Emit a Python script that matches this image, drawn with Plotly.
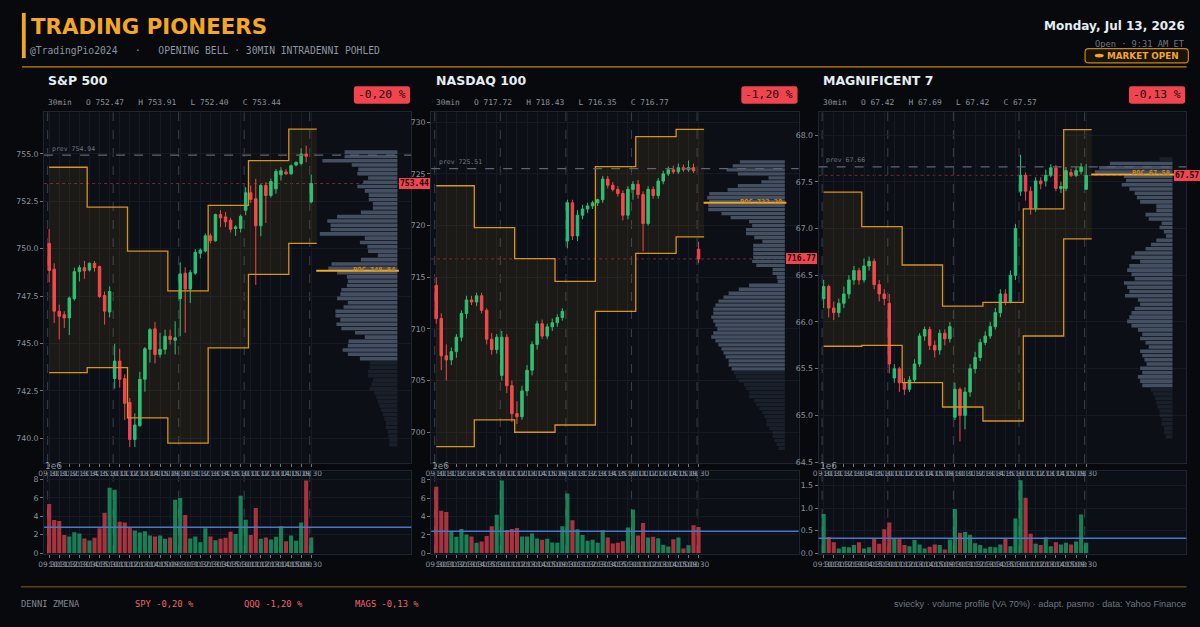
import plotly.graph_objects as go

W, H = 1200, 627
PAGE_BG = "#07090d"
PLOT_BG = "#0c1016"
GRID = "#151b24"
FRAME = "#1f2631"
TXT = "#e6edf3"
MUTED = "#8b949e"
DIM = "#6e7681"
ORANGE = "#f5a623"
GREEN = "#22c27a"
RED = "#f0444f"
MONO = "DejaVu Sans Mono"
SANS = "DejaVu Sans"

# ---------------- data ----------------
session_times = ["09:30", "10:00", "10:30", "11:00", "11:30", "12:00", "12:30",
                 "13:00", "13:30", "14:00", "14:30", "15:00", "15:30"]
time_labels = session_times * 4 + ["09:30"]
day_starts = [0, 13, 26, 39, 52]
band_edges = [0, 7.55, 15.55, 23.55, 31.55, 39.55, 47.55, 53.1]

# S&P 500
spx_open = [750.28, 748.92, 746.70, 746.52, 746.35, 747.36, 748.79, 749.00, 748.88, 749.23, 749.06, 747.53, 746.66,
            743.15, 744.07, 743.15, 741.89, 739.93, 740.66, 743.11, 744.69, 745.77, 744.42, 744.69, 745.38, 745.17,
            747.36, 748.71, 747.87, 748.71, 749.76, 749.88, 750.68, 750.42, 751.80, 751.68, 751.50, 751.07, 751.07,
            752.03, 752.95, 752.64, 751.21, 753.34, 752.81, 753.16, 753.90, 754.05, 753.95, 754.42, 754.50, 755.00,
            752.47]
spx_high = [751.03, 749.23, 747.05, 746.70, 747.48, 749.00, 749.14, 749.35, 749.28, 749.35, 749.11, 747.74, 748.01,
            744.98, 744.72, 743.37, 742.12, 741.31, 743.50, 744.81, 745.82, 746.14, 745.56, 745.73, 745.73, 746.17,
            749.28, 749.02, 748.88, 749.97, 750.02, 750.80, 750.80, 751.85, 752.03, 751.94, 751.63, 751.24, 751.80,
            753.25, 753.34, 753.69, 753.43, 753.51, 753.70, 754.20, 754.30, 754.20, 754.45, 754.60, 755.30, 755.44,
            753.91]
spx_low = [748.23, 746.08, 745.21, 745.82, 745.44, 747.26, 748.27, 748.41, 748.79, 748.79, 747.40, 746.00, 746.38,
           742.62, 742.67, 740.96, 739.53, 739.53, 740.61, 742.45, 743.99, 743.95, 744.25, 744.42, 744.95, 744.42,
           745.38, 745.56, 747.13, 748.62, 749.49, 749.81, 750.28, 750.37, 751.15, 751.15, 750.86, 750.68, 750.86,
           751.77, 752.43, 748.09, 750.66, 751.36, 752.70, 752.90, 753.60, 753.90, 753.90, 754.35, 754.40, 754.56,
           752.40]
spx_close = [748.85, 746.70, 746.43, 746.35, 747.40, 748.79, 749.00, 748.83, 749.23, 749.00, 747.48, 746.70, 747.74,
             744.07, 743.11, 741.84, 739.93, 740.70, 743.11, 744.72, 745.73, 744.42, 744.69, 745.38, 745.21, 745.30,
             748.67, 747.87, 748.74, 749.81, 749.93, 750.68, 750.42, 751.80, 751.63, 751.42, 751.03, 751.15, 751.71,
             752.95, 752.60, 751.21, 753.34, 752.81, 753.55, 754.07, 754.12, 753.95, 754.38, 754.56, 755.00, 754.88,
             753.44]
spx_vol = [5.33, 3.60, 3.50, 1.98, 1.80, 2.27, 2.13, 1.59, 1.37, 1.66, 2.70, 4.40, 7.10,
           6.88, 3.42, 3.32, 2.74, 2.45, 2.23, 2.38, 1.91, 1.80, 1.91, 1.55, 1.69, 5.80,
           5.98, 4.14, 1.59, 1.80, 1.19, 2.70, 1.80, 1.41, 1.55, 1.66, 2.31, 2.09, 6.23,
           3.64, 1.98, 4.90, 1.55, 1.69, 1.48, 1.77, 2.92, 1.30, 1.91, 1.33, 3.32, 7.89,
           1.69]
spx_prev = 754.94
spx_poc = 748.84
spx_va_hi = [754.30, 752.20, 749.87, 747.78, 752.29, 754.65, 756.31]
spx_va_lo = [743.46, 743.72, 741.07, 739.74, 744.77, 748.65, 750.28]
spx_prof_top, spx_prof_step = 755.21, 0.227
spx_prof_va = (744.0, 755.3)
spx_prof = [162, 162, 230, 140, 120, 123, 90,
            105, 123, 100, 88, 88, 75, 75, 112, 185, 215, 205, 205, 238, 100, 115, 92, 90, 60, 112, 202,
            212, 185, 155, 152, 155, 172, 175, 185, 152, 165, 190, 190, 175, 187, 172, 130, 100, 150, 152, 168,
            152, 115,
            85, 85, 90, 90, 75, 80, 85, 70, 65, 60, 55, 50, 45, 40, 35, 35, 30, 28, 25, 25]

# NASDAQ 100
ndx_open = [714.2, 711.0, 707.4, 707.0, 707.8, 709.2, 711.5, 712.8, 712.6, 713.2, 711.8, 709.0, 708.0,
            705.5, 709.2, 704.5, 701.8, 701.5, 704.0, 706.0, 708.5, 710.5, 709.3, 710.2, 710.6, 711.1,
            718.5, 722.2, 719.0, 721.0, 721.6, 721.9, 722.2, 722.5, 724.5, 723.9, 723.5, 723.1, 721.0,
            723.5, 724.0, 723.0, 720.2, 723.5, 722.9, 724.3, 725.0, 725.4, 725.2, 725.6, 725.4, 725.6,
            717.72]
ndx_high = [715.0, 711.5, 708.5, 708.2, 709.5, 711.8, 713.2, 713.2, 713.5, 713.5, 712.0, 709.6, 709.5,
            709.8, 709.5, 705.0, 703.0, 704.5, 706.5, 708.8, 710.8, 710.9, 710.5, 711.0, 711.4, 712.0,
            722.5, 722.5, 721.5, 722.0, 722.2, 722.4, 722.6, 724.8, 724.8, 724.2, 723.8, 723.4, 723.8,
            724.3, 724.4, 723.3, 723.8, 723.8, 724.6, 725.3, 725.7, 725.8, 726.0, 725.9, 726.3, 726.0,
            718.43]
ndx_low = [710.5, 706.0, 705.0, 706.5, 707.2, 708.8, 711.0, 712.3, 712.2, 711.5, 708.5, 707.5, 707.6,
           705.0, 703.8, 701.0, 700.8, 701.2, 703.5, 705.5, 708.0, 709.0, 709.0, 709.8, 710.2, 710.8,
           717.8, 718.6, 718.5, 720.6, 721.2, 721.6, 721.9, 722.2, 723.6, 723.3, 722.8, 720.5, 720.6,
           722.5, 722.6, 717.5, 720.0, 722.6, 722.6, 724.0, 724.8, 725.0, 725.0, 725.2, 725.2, 725.1,
           716.35]
ndx_close = [711.0, 707.4, 707.0, 707.8, 709.2, 711.5, 712.8, 712.6, 713.2, 711.8, 709.0, 708.0, 709.2,
             709.2, 704.5, 701.8, 701.5, 704.0, 706.0, 708.5, 710.5, 709.3, 710.2, 710.6, 711.1, 711.7,
             722.2, 719.0, 721.0, 721.6, 721.9, 722.2, 722.5, 724.5, 723.9, 723.5, 723.1, 721.0, 723.5,
             724.0, 723.0, 720.2, 723.5, 722.9, 724.3, 725.0, 725.4, 725.2, 725.6, 725.4, 725.6, 725.3,
             716.77]
ndx_vol = [7.25, 4.64, 4.49, 2.32, 1.78, 2.64, 2.03, 1.81, 1.12, 1.27, 1.88, 2.93, 4.20,
           7.93, 2.54, 2.64, 2.75, 1.81, 1.81, 2.14, 1.59, 1.45, 1.56, 1.16, 1.12, 2.93,
           6.52, 3.59, 2.61, 1.99, 1.34, 1.45, 1.12, 2.50, 1.70, 1.05, 1.12, 1.30, 2.79,
           4.78, 1.92, 3.30, 1.70, 1.78, 1.63, 0.91, 0.72, 1.52, 1.70, 0.51, 0.87, 3.04,
           2.86]
ndx_prev = 725.51
ndx_poc = 722.20
ndx_va_hi = [723.85, 719.8, 716.8, 714.6, 725.7, 728.6, 729.3]
ndx_va_lo = [698.6, 701.2, 700.0, 700.7, 711.7, 717.3, 718.9]
ndx_prof_top, ndx_prof_step = 726.35, 0.385
ndx_prof_va = (705.8, 726.4)
ndx_prof = [44, 51, 57, 46, 16, 23, 46, 56, 74, 76, 74, 75, 75, 62, 53, 35, 32, 38, 38, 30, 22, 31, 31, 31, 31,
            32, 28, 12, 12, 8, 7,
            35, 45, 55, 60, 65, 68, 70, 70, 72, 70, 68, 66, 70, 72, 68, 65, 62, 60, 58, 55, 55, 52, 50, 48, 45,
            40, 38, 35, 35, 30, 28, 25, 22, 20, 18, 18, 15, 12, 12, 10, 8, 6]

# MAGNIFICENT 7
mag_open = [66.25, 66.38, 66.15, 66.10, 66.20, 66.30, 66.45, 66.55, 66.45, 66.60, 66.65, 66.40, 66.30,
            66.20, 65.40, 65.50, 65.35, 65.28, 65.38, 65.55, 65.85, 65.92, 65.75, 65.70, 65.88, 65.82,
            64.98, 65.28, 65.00, 65.25, 65.50, 65.62, 65.78, 65.85, 65.95, 66.10, 66.30, 66.22, 66.50,
            67.40, 67.57, 67.40, 67.22, 67.51, 67.51, 67.57, 67.65, 67.43, 67.43, 67.60, 67.57, 67.61,
            67.42]
mag_high = [66.45, 66.40, 66.22, 66.25, 66.38, 66.50, 66.60, 66.58, 66.68, 66.70, 66.68, 66.45, 66.35,
            66.30, 65.55, 65.52, 65.40, 65.42, 65.60, 65.88, 65.95, 65.95, 65.80, 65.92, 65.92, 66.00,
            65.35, 65.30, 65.30, 65.55, 65.68, 65.82, 65.90, 66.00, 66.15, 66.35, 66.35, 66.55, 67.05,
            67.79, 67.60, 67.45, 67.55, 67.55, 67.63, 67.69, 67.68, 67.50, 67.66, 67.64, 67.66, 67.70,
            67.69]
mag_low = [66.15, 66.05, 66.02, 66.05, 66.15, 66.25, 66.40, 66.40, 66.42, 66.55, 66.35, 66.22, 66.18,
           65.45, 65.35, 65.25, 65.22, 65.25, 65.35, 65.52, 65.80, 65.70, 65.62, 65.65, 65.75, 65.78,
           64.95, 64.72, 64.85, 65.20, 65.45, 65.58, 65.75, 65.82, 65.92, 66.05, 66.18, 66.20, 66.45,
           67.35, 67.30, 67.15, 67.18, 67.42, 67.45, 67.55, 67.40, 67.38, 67.40, 67.55, 67.55, 67.58,
           67.42]
mag_close = [66.38, 66.15, 66.10, 66.20, 66.30, 66.45, 66.55, 66.45, 66.60, 66.65, 66.40, 66.30, 66.25,
             65.55, 65.50, 65.35, 65.28, 65.38, 65.55, 65.85, 65.92, 65.75, 65.70, 65.88, 65.82, 65.95,
             65.28, 65.00, 65.25, 65.50, 65.62, 65.78, 65.85, 65.95, 66.10, 66.30, 66.22, 66.50, 67.00,
             67.57, 67.40, 67.22, 67.51, 67.48, 67.57, 67.65, 67.43, 67.45, 67.62, 67.57, 67.62, 67.66,
             67.57]
mag_vol = [0.87, 0.36, 0.24, 0.10, 0.14, 0.13, 0.18, 0.24, 0.10, 0.13, 0.32, 0.21, 0.53,
           0.68, 0.32, 0.32, 0.18, 0.15, 0.29, 0.19, 0.10, 0.14, 0.19, 0.18, 0.08, 0.30,
           0.98, 0.45, 0.47, 0.41, 0.22, 0.18, 0.10, 0.14, 0.13, 0.19, 0.32, 0.15, 0.77,
           1.62, 1.23, 0.43, 0.21, 0.18, 0.35, 0.15, 0.24, 0.19, 0.23, 0.19, 0.26, 0.86,
           0.23]
mag_prev = 67.66
mag_poc = 67.58
mag_va_hi = [67.39, 67.02, 66.61, 66.17, 66.21, 67.21, 68.06]
mag_va_lo = [65.74, 65.75, 65.35, 65.09, 64.94, 65.85, 66.89]
mag_prof_top, mag_prof_step = 67.766, 0.0457
mag_prof_va = (65.30, 67.72)
mag_prof = [12, 58, 68, 72, 45, 43, 47, 40, 35, 33, 30, 15, 15, 25, 22, 10, 12, 8, 6, 15, 20, 25, 35, 38, 30,
            40, 42, 38, 35, 45, 42, 40, 44, 32, 30, 35, 38, 40, 42, 38, 32, 28, 30, 25, 22, 30, 28, 26, 24,
            30, 28, 32, 30, 28,
            20, 18, 16, 15, 14, 12, 12, 10, 10, 8, 8, 6]

# ---------------- geometry / style ----------------
PANEL_X = [(38.3, 407.3), (427.3, 796.7), (816.7, 1186.3)]
CANDLE_Y = (113.0, 466.0)
VOL_Y = (474.3, 557.3)
X_RANGE = [-1.0, 71.85]
PROFILE_RIGHT = 69.1
PROFILE_MAXW = 15.4


def fx(px):
    return px / W


def fy(py):
    return 1 - py / H


def rrect(x0, y0, x1, y1, r):
    return (f"M {fx(x0 + r)},{fy(y0)} L {fx(x1 - r)},{fy(y0)} Q {fx(x1)},{fy(y0)} {fx(x1)},{fy(y0 + r)} "
            f"L {fx(x1)},{fy(y1 - r)} Q {fx(x1)},{fy(y1)} {fx(x1 - r)},{fy(y1)} "
            f"L {fx(x0 + r)},{fy(y1)} Q {fx(x0)},{fy(y1)} {fx(x0)},{fy(y1 - r)} "
            f"L {fx(x0)},{fy(y0 + r)} Q {fx(x0)},{fy(y0)} {fx(x0 + r)},{fy(y0)} Z")


panels = [
    dict(name="S&P 500", tk="SPY", o=spx_open, h=spx_high, l=spx_low, c=spx_close, v=spx_vol, prev=spx_prev,
         poc=spx_poc, hi=spx_va_hi, lo=spx_va_lo, ptop=spx_prof_top, pstep=spx_prof_step, prof=spx_prof,
         pva=spx_prof_va, yr=[738.69, 757.2], dt=2.5, fmt=".1f", vr=[-0.07, 8.9], vdt=2, vfmt="d"),
    dict(name="NASDAQ 100", tk="QQQ", o=ndx_open, h=ndx_high, l=ndx_low, c=ndx_close, v=ndx_vol, prev=ndx_prev,
         poc=ndx_poc, hi=ndx_va_hi, lo=ndx_va_lo, ptop=ndx_prof_top, pstep=ndx_prof_step, prof=ndx_prof,
         pva=ndx_prof_va, yr=[697.02, 730.96], dt=5, fmt="d", vr=[-0.07, 8.95], vdt=2, vfmt="d"),
    dict(name="MAGNIFICENT 7", tk="MAGS", o=mag_open, h=mag_high, l=mag_low, c=mag_close, v=mag_vol,
         prev=mag_prev, poc=mag_poc, hi=mag_va_hi, lo=mag_va_lo, ptop=mag_prof_top, pstep=mag_prof_step,
         prof=mag_prof, pva=mag_prof_va, yr=[64.49, 68.245], dt=0.5, fmt=".1f", vr=[-0.015, 1.82], vdt=0.5,
         vfmt=".1f"),
]

fig = go.Figure()
shapes = []
annotations = []
layout = {}

idx = list(range(len(time_labels)))
tickvals = idx[::2]
ticktext = time_labels[::2]

for p_i, p in enumerate(panels):
    k = p_i + 1
    kv = p_i + 4
    xa = "x" if k == 1 else f"x{k}"
    ya = "y" if k == 1 else f"y{k}"
    xv = f"x{kv}"
    yv = f"y{kv}"
    left, right = PANEL_X[p_i]
    n = len(p["c"])
    xs = list(range(n))

    common_x = dict(range=X_RANGE, showgrid=True, gridcolor=GRID, gridwidth=1, zeroline=False,
                    tickmode="array", tickvals=tickvals, ticktext=ticktext, tickangle=0,
                    tickfont=dict(family=SANS, size=7.5, color=MUTED), ticks="outside", ticklen=3,
                    tickcolor="#6e7681", showline=True, mirror=True, linecolor=FRAME, linewidth=1,
                    fixedrange=True)
    layout["xaxis" if k == 1 else f"xaxis{k}"] = dict(common_x, domain=[fx(left), fx(right)], anchor=ya,
                                                      rangeslider=dict(visible=False))
    layout[f"xaxis{kv}"] = dict(common_x, domain=[fx(left), fx(right)], anchor=yv)
    layout["yaxis" if k == 1 else f"yaxis{k}"] = dict(
        domain=[fy(CANDLE_Y[1]), fy(CANDLE_Y[0])], anchor=xa, range=p["yr"], dtick=p["dt"],
        tickformat=p["fmt"], showgrid=True, gridcolor=GRID, zeroline=False, ticks="outside", ticklen=3,
        tickcolor="#6e7681", tickfont=dict(family=SANS, size=7.8, color=MUTED), showline=True, mirror=True,
        linecolor=FRAME, fixedrange=True)
    layout[f"yaxis{kv}"] = dict(
        domain=[fy(VOL_Y[1]), fy(VOL_Y[0])], anchor=xv, range=p["vr"], dtick=p["vdt"], tickformat=p["vfmt"],
        showgrid=True, gridcolor=GRID, zeroline=False, ticks="outside", ticklen=3, tickcolor="#6e7681",
        tickfont=dict(family=SANS, size=7.8, color=MUTED), showline=True, mirror=True, linecolor=FRAME,
        fixedrange=True)

    # value-area band (step)
    ys_hi = p["hi"] + [p["hi"][-1]]
    ys_lo = p["lo"] + [p["lo"][-1]]
    fig.add_trace(go.Scatter(x=band_edges, y=ys_lo, mode="lines", line=dict(color="#d9941c", width=1.3, shape="hv"),
                             xaxis=xa, yaxis=ya, hoverinfo="skip", showlegend=False))
    fig.add_trace(go.Scatter(x=band_edges, y=ys_hi, mode="lines", line=dict(color="#d9941c", width=1.3, shape="hv"),
                             fill="tonexty", fillcolor="rgba(245,166,35,0.07)",
                             xaxis=xa, yaxis=ya, hoverinfo="skip", showlegend=False))

    # volume profile
    pmax = max(p["prof"])
    centers = [p["ptop"] - p["pstep"] * (i + 0.5) for i in range(len(p["prof"]))]
    lens = [v / pmax * PROFILE_MAXW for v in p["prof"]]
    cols = ["rgba(68,79,98,1)" if p["pva"][0] <= c <= p["pva"][1] else "rgba(68,79,98,0.25)"
            for c in centers]
    fig.add_trace(go.Bar(y=centers, x=lens, base=[PROFILE_RIGHT - L for L in lens], orientation="h",
                         width=p["pstep"] * 0.84, marker=dict(color=cols, line=dict(width=0)),
                         xaxis=xa, yaxis=ya, hoverinfo="skip", showlegend=False))

    # candles
    fig.add_trace(go.Candlestick(x=xs, open=p["o"], high=p["h"], low=p["l"], close=p["c"], xaxis=xa, yaxis=ya,
                                 increasing=dict(line=dict(color=GREEN, width=1), fillcolor=GREEN),
                                 decreasing=dict(line=dict(color=RED, width=1), fillcolor=RED),
                                 whiskerwidth=0, hoverinfo="skip", showlegend=False))

    # volume bars
    vcols = ["rgba(34,194,122,0.62)" if c >= o else "rgba(240,68,79,0.68)" for o, c in zip(p["o"], p["c"])]
    fig.add_trace(go.Bar(x=xs, y=p["v"], width=0.82, marker=dict(color=vcols, line=dict(width=0)),
                         xaxis=xv, yaxis=yv, hoverinfo="skip", showlegend=False))
    vmean = sum(p["v"]) / len(p["v"])
    shapes.append(dict(type="line", xref=f"{xv} domain", yref=yv, x0=0, x1=1, y0=vmean, y1=vmean,
                       line=dict(color="#4a78c8", width=1.5), layer="above"))

    # day separators
    for d in day_starts:
        for (xr, yr) in ((xa, ya), (xv, yv)):
            shapes.append(dict(type="line", xref=xr, yref=f"{yr} domain", x0=d - 0.3, x1=d - 0.3, y0=0, y1=1,
                               line=dict(color="#39414d", width=1, dash="dash"), layer="below"))

    last = p["c"][-1]
    # prev close line
    shapes.append(dict(type="line", xref=f"{xa} domain", yref=ya, x0=0, x1=1, y0=p["prev"], y1=p["prev"],
                       line=dict(color="#5d6573", width=1.2, dash="dash"), layer="above"))
    annotations.append(dict(xref="paper", yref=ya, x=fx(left + 5.7), y=p["prev"], yshift=6.5, xanchor="left",
                            yanchor="middle", text=f"prev {p['prev']:.2f}", showarrow=False,
                            font=dict(family=MONO, size=6.5, color=DIM)))
    # last price line
    shapes.append(dict(type="line", xref=f"{xa} domain", yref=ya, x0=0, x1=1, y0=last, y1=last,
                       line=dict(color="#7a2630", width=1, dash="dot"), layer="below"))
    # POC line + label
    shapes.append(dict(type="line", xref=xa, yref=ya, x0=n, x1=PROFILE_RIGHT + 0.3, y0=p["poc"], y1=p["poc"],
                       line=dict(color=ORANGE, width=2), layer="above"))
    annotations.append(dict(xref=xa, yref=ya, x=PROFILE_RIGHT - 0.1, y=p["poc"], yshift=1, xanchor="right",
                            yanchor="middle", text=f"<b>POC {p['poc']:.2f}</b>", showarrow=False,
                            font=dict(family=MONO, size=7, color="#c98a1c")))
    # last price label
    annotations.append(dict(xref=xa, yref=ya, x=PROFILE_RIGHT + 0.25, y=last, xanchor="left", yanchor="middle",
                            text=f"<b>{last:.2f}</b>", showarrow=False, bgcolor=RED, borderpad=1, borderwidth=0,
                            font=dict(family=MONO, size=8, color="#14080a")))

    # panel header
    annotations.append(dict(xref="paper", yref="paper", x=fx(left + 2.4), y=fy(80.7), xanchor="left",
                            yanchor="middle", text=f"<b>{p['name']}</b>", showarrow=False,
                            font=dict(family=SANS, size=12.5, color=TXT)))
    o_, h_, l_, c_ = p["o"][-1], p["h"][-1], p["l"][-1], p["c"][-1]
    annotations.append(dict(xref="paper", yref="paper", x=fx(left + 2.4), y=fy(103.3), xanchor="left",
                            yanchor="middle",
                            text=f"30min   O {o_:.2f}   H {h_:.2f}   L {l_:.2f}   C {c_:.2f}",
                            showarrow=False, font=dict(family=MONO, size=7.9, color=MUTED)))
    chg = (last / p["prev"] - 1) * 100
    chg_txt = f"{chg:.2f} %".replace(".", ",")
    p["chg_txt"] = chg_txt
    bx1 = right - 1.2
    bx0 = bx1 - 56.5
    shapes.append(dict(type="path", xref="paper", yref="paper", path=rrect(bx0, 86.7, bx1, 104.3, 2.5),
                       fillcolor=RED, line=dict(width=0), layer="above"))
    annotations.append(dict(xref="paper", yref="paper", x=fx((bx0 + bx1) / 2), y=fy(95.5), xanchor="center",
                            yanchor="middle", text=chg_txt, showarrow=False,
                            font=dict(family=MONO, size=11.3, color="#1a0a0c")))
    annotations.append(dict(xref="paper", yref="paper", x=fx(left - 1), y=fy(468.5), xanchor="left",
                            yanchor="middle", text="1e6", showarrow=False,
                            font=dict(family=SANS, size=9, color=MUTED)))

# ---------------- page header ----------------
shapes.append(dict(type="rect", xref="paper", yref="paper", x0=fx(16), x1=fx(19.8), y0=fy(58.5), y1=fy(13),
                   fillcolor=ORANGE, line=dict(width=0)))
shapes.append(dict(type="line", xref="paper", yref="paper", x0=fx(16), x1=fx(1186.5), y0=fy(67.3), y1=fy(67.3),
                   line=dict(color="#c8860d", width=1.3)))
annotations.append(dict(xref="paper", yref="paper", x=fx(22.8), y=fy(26.8), xanchor="left", yanchor="middle",
                        text="<b>TRADING PIONEERS</b>", showarrow=False,
                        font=dict(family=SANS, size=21.3, color=ORANGE)))
annotations.append(dict(xref="paper", yref="paper", x=fx(21.7), y=fy(50.5), xanchor="left", yanchor="middle",
                        text="@TradingPio2024   ·   OPENING BELL · 30MIN INTRADENNI POHLED", showarrow=False,
                        font=dict(family=MONO, size=9.7, color=MUTED)))
annotations.append(dict(xref="paper", yref="paper", x=fx(1187), y=fy(26.5), xanchor="right", yanchor="middle",
                        text="<b>Monday, Jul 13, 2026</b>", showarrow=False,
                        font=dict(family=SANS, size=12, color=TXT)))
annotations.append(dict(xref="paper", yref="paper", x=fx(1187), y=fy(44.5), xanchor="right", yanchor="middle",
                        text="Open · 9:31 AM ET", showarrow=False, font=dict(family=MONO, size=8.7, color=DIM)))
shapes.append(dict(type="path", xref="paper", yref="paper", path=rrect(1084.5, 49.0, 1188.3, 63.3, 3.5),
                   fillcolor="#1a1408", line=dict(color="#c8860d", width=1.2)))
shapes.append(dict(type="circle", xref="paper", yref="paper", x0=fx(1094.2), x1=fx(1103.3), y0=fy(57.8),
                   y1=fy(54.0), fillcolor=ORANGE, line=dict(width=0)))
annotations.append(dict(xref="paper", yref="paper", x=fx(1104.8), y=fy(56.3), xanchor="left", yanchor="middle",
                        text="<b>MARKET OPEN</b>", showarrow=False, font=dict(family=SANS, size=8.8, color=ORANGE)))

# ---------------- footer ----------------
shapes.append(dict(type="line", xref="paper", yref="paper", x0=fx(15), x1=fx(1186.5), y0=fy(590.5),
                   y1=fy(590.5), line=dict(color="#5a4214", width=1.5)))
annotations.append(dict(xref="paper", yref="paper", x=fx(13.3), y=fy(607.5), xanchor="left", yanchor="middle",
                        text="DENNI ZMENA", showarrow=False, font=dict(family=MONO, size=8.8, color="#7d8590")))
for p, xp in zip(panels, (128, 237.5, 348.4)):
    annotations.append(dict(xref="paper", yref="paper", x=fx(xp), y=fy(607.5), xanchor="left", yanchor="middle",
                            text=f"{p['tk']} {p['chg_txt']}", showarrow=False,
                            font=dict(family=MONO, size=8.8, color="#f0646e")))
annotations.append(dict(xref="paper", yref="paper", x=fx(1188), y=fy(607.5), xanchor="right", yanchor="middle",
                        text="sviecky · volume profile (VA 70%) · adapt. pasmo · data: Yahoo Finance",
                        showarrow=False, font=dict(family="Liberation Sans", size=9.2, color=DIM)))

fig.update_layout(width=W, height=H, margin=dict(l=0, r=0, t=0, b=0), paper_bgcolor=PAGE_BG,
                  plot_bgcolor=PLOT_BG, barmode="overlay", showlegend=False, shapes=shapes,
                  annotations=annotations, hovermode=False, **layout)

fig.write_html("out.html", config=dict(displayModeBar=False))
